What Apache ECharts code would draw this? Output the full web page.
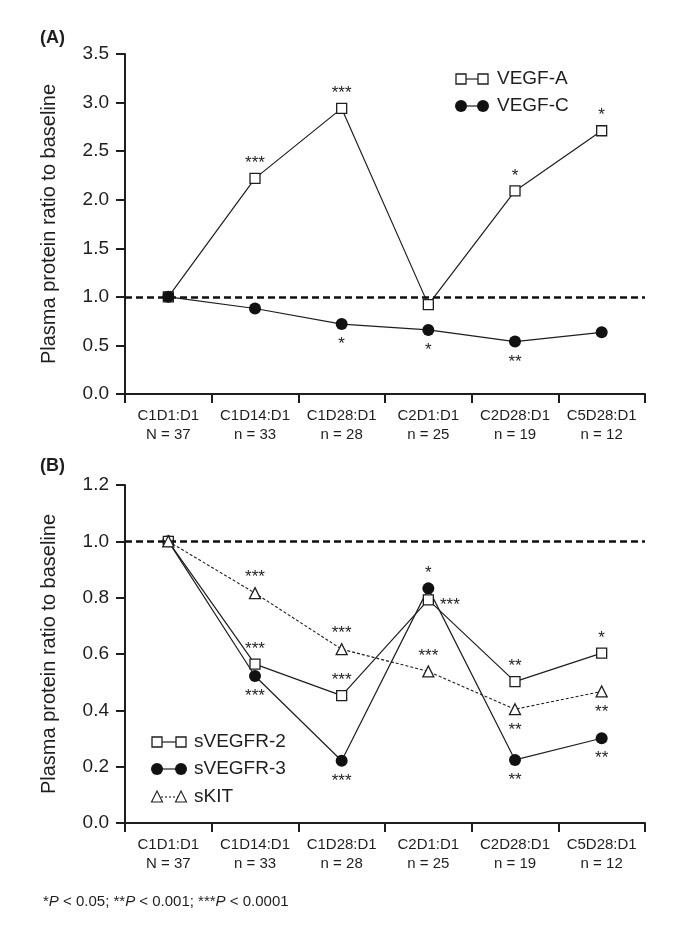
<!DOCTYPE html>
<html><head><meta charset="utf-8">
<script src="https://cdn.jsdelivr.net/npm/echarts@6/dist/echarts.min.js"></script>
<style>html,body{margin:0;padding:0;background:#fff}#c{width:685px;height:937px}</style>
</head><body><div id="c"></div>
<script>
// ---------- data ----------
const timepoints = ['C1D1:D1', 'C1D14:D1', 'C1D28:D1', 'C2D1:D1', 'C2D28:D1', 'C5D28:D1'];
const sampleSizes = ['N = 37', 'n = 33', 'n = 28', 'n = 25', 'n = 19', 'n = 12'];
const baseline = 1.0;
const yTicksA = [0.0, 0.5, 1.0, 1.5, 2.0, 2.5, 3.0, 3.5];
const yTicksB = [0.0, 0.2, 0.4, 0.6, 0.8, 1.0, 1.2];

const vegfA = [1.00, 2.22, 2.94, 0.92, 2.09, 2.71];
const vegfC = [1.00, 0.88, 0.72, 0.66, 0.54, 0.635];
const sigVegfA = ['', '***', '***', '', '*', '*'];
const sigVegfC = ['', '', '*', '*', '**', ''];

const sVegfr2 = [1.00, 0.564, 0.452, 0.792, 0.502, 0.603];
const sVegfr3 = [1.00, 0.522, 0.221, 0.833, 0.224, 0.301];
const sKit = [1.00, 0.816, 0.617, 0.538, 0.404, 0.467];
const sigVegfr2 = ['', '***', '***', '***', '**', '*'];
const sigVegfr3 = ['', '***', '***', '*', '**', '**'];
const sigKit = ['', '***', '***', '***', '**', '**'];

const yTitle = 'Plasma protein ratio to baseline';

// ---------- layout / style ----------
const INK = '#1e1e1e';
const FONT = 'Liberation Sans, Arial, Helvetica, sans-serif';
const catLabels = timepoints.map((t, i) => t + '\n' + sampleSizes[i]);

const placeA = ['top', 'top', 'top', 'top', 'top', 'top'];
const placeC = ['bottom', 'bottom', 'bottom', 'bottom', 'bottom', 'bottom'];
const placeR2 = ['top', 'top', 'top', 'right', 'top', 'top'];
const placeR3 = ['bottom', 'bottom', 'bottom', 'top', 'bottom', 'bottom'];
const placeKit = ['top', 'top', 'top', 'top', 'bottom', 'bottom'];

function withStars(values, stars, places) {
  return values.map((v, i) => {
    const p = places[i];
    return {
      value: v,
      label: {
        show: !!stars[i],
        formatter: stars[i],
        position: p,
        distance: p === 'top' ? 1 : (p === 'bottom' ? 6 : 6),
        offset: p === 'right' ? [0, 5] : [0, 0],
        fontSize: 17,
        fontFamily: FONT,
        color: INK,
        lineHeight: 17
      }
    };
  });
}

function xAxisCfg(gi) {
  return {
    type: 'category', gridIndex: gi, data: catLabels, boundaryGap: true,
    axisLine: { show: true, lineStyle: { color: INK, width: 2 } },
    axisTick: { show: true, length: 9, inside: false, interval: 0, lineStyle: { color: INK, width: 2 } },
    axisLabel: { interval: 0, margin: 13, fontSize: 15, lineHeight: 18.5, color: INK, fontFamily: FONT },
    splitLine: { show: false }
  };
}
function yAxisCfg(gi, ticks) {
  return {
    type: 'value', gridIndex: gi,
    min: ticks[0], max: ticks[ticks.length - 1], interval: ticks[1] - ticks[0],
    name: yTitle, nameLocation: 'middle', nameGap: 66,
    nameTextStyle: { fontSize: 20, color: INK, fontFamily: FONT },
    axisLine: { show: true, lineStyle: { color: INK, width: 2 } },
    axisTick: { show: true, length: 9, inside: false, lineStyle: { color: INK, width: 2 } },
    axisLabel: { margin: 16, fontSize: 19, color: INK, fontFamily: FONT, formatter: v => v.toFixed(1) },
    splitLine: { show: false }
  };
}

const squareStyle = { color: '#fff', borderColor: INK, borderWidth: 1.3 };
const circleStyle = { color: '#111', borderColor: '#111', borderWidth: 0 };
const baseMarkLine = {
  silent: true, symbol: 'none', label: { show: false },
  lineStyle: { type: [7, 4], width: 2.6, color: '#111' },
  data: [{ yAxis: baseline }]
};

function lineSeries(name, gi, values, stars, places, symbol, size, itemStyle, lineType, z) {
  return {
    name, type: 'line', xAxisIndex: gi, yAxisIndex: gi,
    data: withStars(values, stars, places),
    symbol, symbolSize: size, showAllSymbol: true,
    itemStyle, lineStyle: { color: INK, width: lineType === 'solid' ? 1.2 : 1.1, type: lineType },
    emphasis: { disabled: true }, animation: false, z
  };
}

// legend built as graphic (pair of symbols joined by a line)
function legendRow(x1, x2, y, kind, dash, text, tx) {
  const els = [];
  els.push({ type: 'line', shape: { x1, y1: y, x2, y2: y }, style: { stroke: INK, lineWidth: dash ? 1.1 : 1.2, lineDash: dash ? [2, 2] : null }, z: 100 });
  [x1, x2].forEach(cx => {
    if (kind === 'rect') els.push({ type: 'rect', shape: { x: cx - 5, y: y - 5, width: 10, height: 10 }, style: { fill: '#fff', stroke: INK, lineWidth: 1.3 }, z: 101 });
    if (kind === 'circle') els.push({ type: 'circle', shape: { cx, cy: y, r: 6 }, style: { fill: '#111' }, z: 101 });
    if (kind === 'triangle') els.push({ type: 'polygon', shape: { points: [[cx, y - 6], [cx + 5.5, y + 5], [cx - 5.5, y + 5]] }, style: { fill: '#fff', stroke: INK, lineWidth: 1.1 }, z: 101 });
  });
  els.push({ type: 'text', x: tx, y, style: { text, fontSize: 19, fontFamily: FONT, fill: INK, align: 'left', verticalAlign: 'middle' }, z: 101 });
  return els;
}

const graphics = [].concat(
  [{ type: 'text', x: 40, y: 38, style: { text: '(A)', fontSize: 18, fontWeight: 'bold', fontFamily: FONT, fill: INK, verticalAlign: 'middle' } }],
  [{ type: 'text', x: 40, y: 466, style: { text: '(B)', fontSize: 18, fontWeight: 'bold', fontFamily: FONT, fill: INK, verticalAlign: 'middle' } }],
  legendRow(461, 483, 79, 'rect', false, 'VEGF-A', 497),
  legendRow(461, 483, 106, 'circle', false, 'VEGF-C', 497),
  legendRow(157, 181, 742, 'rect', false, 'sVEGFR-2', 194),
  legendRow(157, 181, 769, 'circle', false, 'sVEGFR-3', 194),
  legendRow(157, 181, 797, 'triangle', true, 'sKIT', 194),
  [{
    type: 'text', x: 43, y: 902,
    style: {
      text: '{n|*}{i|P}{n| < 0.05; **}{i|P}{n| < 0.001; ***}{i|P}{n| < 0.0001}',
      verticalAlign: 'middle', fill: INK,
      rich: {
        n: { fontSize: 15, fontFamily: FONT, fill: INK },
        i: { fontSize: 15, fontFamily: FONT, fontStyle: 'italic', fill: INK }
      }
    }
  }]
);

const option = {
  animation: false,
  backgroundColor: '#fff',
  grid: [
    { left: 125, top: 54, width: 520, height: 340, containLabel: false },
    { left: 125, top: 485, width: 520, height: 338, containLabel: false }
  ],
  xAxis: [xAxisCfg(0), xAxisCfg(1)],
  yAxis: [yAxisCfg(0, yTicksA), yAxisCfg(1, yTicksB)],
  series: [
    Object.assign(lineSeries('VEGF-A', 0, vegfA, sigVegfA, placeA, 'rect', 10, squareStyle, 'solid', 3), { markLine: baseMarkLine }),
    lineSeries('VEGF-C', 0, vegfC, sigVegfC, placeC, 'circle', 12, circleStyle, 'solid', 4),
    Object.assign(lineSeries('sVEGFR-3', 1, sVegfr3, sigVegfr3, placeR3, 'circle', 12, circleStyle, 'solid', 3), { markLine: baseMarkLine }),
    lineSeries('sVEGFR-2', 1, sVegfr2, sigVegfr2, placeR2, 'rect', 10, squareStyle, 'solid', 4),
    lineSeries('sKIT', 1, sKit, sigKit, placeKit, 'triangle', 11, squareStyle, [3, 2], 5)
  ],
  graphic: graphics
};

const chart = echarts.init(document.getElementById('c'), null, { renderer: 'canvas' });
chart.setOption(option);
</script>
</body></html>
